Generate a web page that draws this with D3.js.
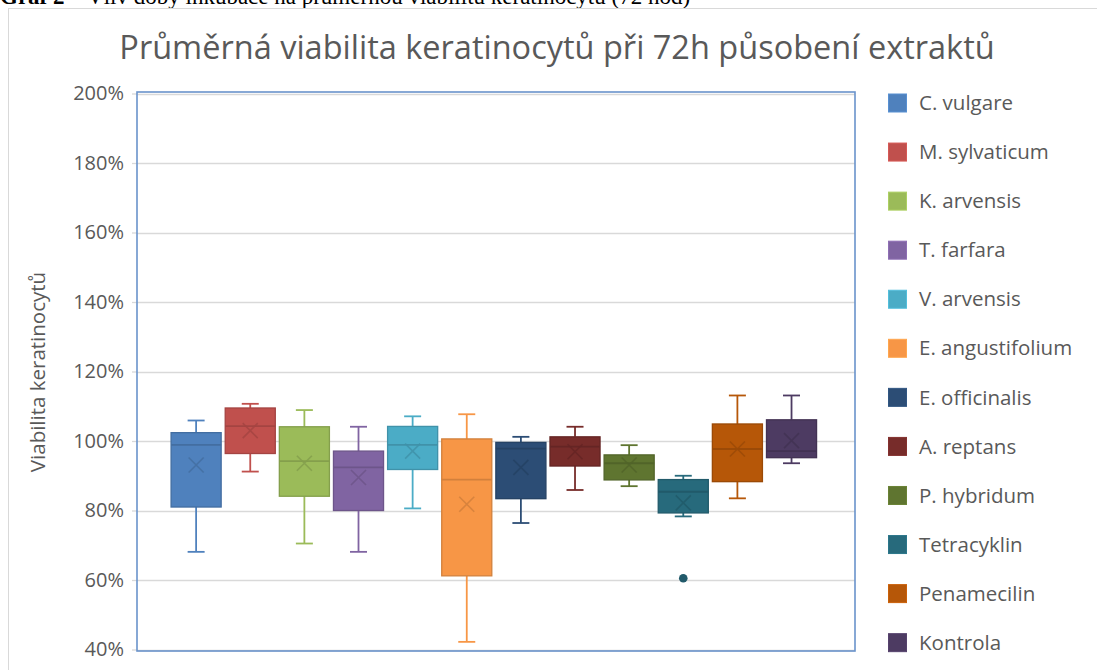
<!DOCTYPE html>
<html>
<head>
<meta charset="utf-8">
<script src="https://cdn.jsdelivr.net/npm/d3@7/dist/d3.min.js"></script>
<style>
  html, body { margin: 0; padding: 0; background: #fff; }
  svg { display: block; }
</style>
</head>
<body>
<svg id="chart" width="1097" height="670"></svg>
<script>
// ---- Data ----
const categories = ["C. vulgare", "M. sylvaticum", "K. arvensis", "T. farfara", "V. arvensis",
  "E. angustifolium", "E. officinalis", "A. reptans", "P. hybridum", "Tetracyklin", "Penamecilin", "Kontrola"];
const whiskerHigh = [105.9, 110.7, 108.9, 104.1, 107.1, 107.7, 101.2, 104.1, 98.8, 90.0, 113.1, 113.1];
const q3Values    = [102.4, 109.5, 104.1, 97.1, 104.2, 100.6, 99.6, 101.2, 96.0, 88.9, 104.9, 106.1];
const medianValues= [98.9, 104.3, 94.2, 92.4, 98.9, 88.9, 97.8, 98.4, 93.6, 85.4, 97.7, 97.1];
const meanValues  = [93.1, 103.0, 93.6, 89.5, 97.1, 81.8, 92.4, 96.9, 93.1, 82.2, 97.7, 100.1];
const q1Values    = [81.0, 96.4, 84.1, 80.0, 91.8, 61.2, 83.4, 92.8, 88.8, 79.3, 88.3, 95.2];
const whiskerLow  = [68.1, 91.2, 70.5, 68.1, 80.6, 42.2, 76.4, 85.9, 87.0, 78.3, 83.5, 93.6];
const outliers    = [[], [], [], [], [], [], [], [], [], [60.5], [], []];
const seriesColors = ["#4F81BD", "#C0504D", "#9BBB59", "#8064A2", "#4BACC6", "#F79646",
  "#2C4D75", "#772C2A", "#5F7530", "#276A7C", "#B65708", "#4D3B62"];
const yTicks = [40, 60, 80, 100, 120, 140, 160, 180, 200];
const chartTitle = "Průměrná viabilita keratinocytů při 72h působení extraktů";
const yAxisTitle = "Viabilita keratinocytů";
const captionBold = "Graf 2";
const captionRest = " – Vliv doby inkubace na průměrnou viabilitu keratinocytů (72 hod)";

const FONT = "'Open Sans', 'Noto Sans', sans-serif";
const svg = d3.select("#chart");

// caption above chart (cut off at top, as in the reference)
const cap = svg.append("text").attr("x", 0).attr("y", 4)
  .attr("font-family", "'Liberation Serif', 'Times New Roman', serif")
  .attr("font-size", 23).attr("fill", "#000");
cap.append("tspan").attr("font-weight", "bold").text(captionBold);
cap.append("tspan").text(captionRest);

// chart outer border
svg.append("rect").attr("x", 8.5).attr("y", 8.5).attr("width", 1200).attr("height", 700)
  .attr("fill", "#fff").attr("stroke", "#D9D9D9").attr("stroke-width", 1);

// scales
const plotL = 137, plotR = 855;
const y = d3.scaleLinear().domain([40, 200]).range([649.5, 93.5]);
const x = d3.scaleBand().domain(categories).range([plotL, plotR])
  .paddingInner(0.075).paddingOuter(0.67).align(0.47);

// gridlines
svg.append("g").selectAll("line").data(yTicks).join("line")
  .attr("x1", plotL).attr("x2", plotR)
  .attr("y1", d => Math.round(y(d)) + 0.5).attr("y2", d => Math.round(y(d)) + 0.5)
  .attr("stroke", "#D9D9D9").attr("stroke-width", 1.3);

// y axis
const yAxis = svg.append("g").attr("transform", `translate(${plotL},0)`)
  .call(d3.axisLeft(y).tickValues(yTicks).tickFormat(d => d + "%").tickSize(5).tickPadding(8));
yAxis.select(".domain").remove();
yAxis.selectAll(".tick line").attr("stroke", "#D9D9D9").attr("stroke-width", 1.3);
yAxis.selectAll(".tick text").attr("font-family", FONT).attr("font-size", 20).attr("fill", "#595959");

// plot frame
svg.append("rect").attr("x", plotL).attr("y", y(200) - 1.5)
  .attr("width", plotR - plotL).attr("height", y(40) - y(200) + 3)
  .attr("fill", "none").attr("stroke", "#6A93CB").attr("stroke-width", 1.6);

// boxes
const bw = x.bandwidth();
const g = svg.append("g").selectAll("g").data(categories).join("g")
  .attr("transform", d => `translate(${x(d) + bw / 2},0)`);

const dark = i => d3.color(seriesColors[i]).darker(0.45).formatHex();
const capW = 17;

// whiskers
g.append("line").attr("x1", 0).attr("x2", 0)
  .attr("y1", (d, i) => y(whiskerHigh[i])).attr("y2", (d, i) => y(q3Values[i]))
  .attr("stroke", (d, i) => seriesColors[i]).attr("stroke-width", 1.8);
g.append("line").attr("x1", 0).attr("x2", 0)
  .attr("y1", (d, i) => y(q1Values[i])).attr("y2", (d, i) => y(whiskerLow[i]))
  .attr("stroke", (d, i) => seriesColors[i]).attr("stroke-width", 1.8);
g.append("line").attr("x1", -capW / 2).attr("x2", capW / 2)
  .attr("y1", (d, i) => y(whiskerHigh[i])).attr("y2", (d, i) => y(whiskerHigh[i]))
  .attr("stroke", (d, i) => seriesColors[i]).attr("stroke-width", 1.8);
g.append("line").attr("x1", -capW / 2).attr("x2", capW / 2)
  .attr("y1", (d, i) => y(whiskerLow[i])).attr("y2", (d, i) => y(whiskerLow[i]))
  .attr("stroke", (d, i) => seriesColors[i]).attr("stroke-width", 1.8);

// box
g.append("rect").attr("x", -bw / 2).attr("width", bw)
  .attr("y", (d, i) => y(q3Values[i])).attr("height", (d, i) => y(q1Values[i]) - y(q3Values[i]))
  .attr("fill", (d, i) => seriesColors[i]).attr("stroke", (d, i) => dark(i)).attr("stroke-width", 1.3);

// median
g.append("line").attr("x1", -bw / 2).attr("x2", bw / 2)
  .attr("y1", (d, i) => y(medianValues[i])).attr("y2", (d, i) => y(medianValues[i]))
  .attr("stroke", (d, i) => dark(i)).attr("stroke-width", 1.8);

// mean marker (X)
const mk = 7.5;
g.append("path")
  .attr("d", (d, i) => {
    const cy = y(meanValues[i]);
    return `M${-mk},${cy - mk}L${mk},${cy + mk}M${-mk},${cy + mk}L${mk},${cy - mk}`;
  })
  .attr("stroke", (d, i) => dark(i)).attr("stroke-width", 1.6).attr("fill", "none").attr("opacity", 0.85);

// outliers
g.each(function (d, i) {
  d3.select(this).selectAll("circle").data(outliers[i]).join("circle")
    .attr("cx", 0).attr("cy", v => y(v)).attr("r", 4.3)
    .attr("fill", dark(i));
});

// title
svg.append("text").attr("x", 557).attr("y", 59).attr("text-anchor", "middle")
  .attr("font-family", FONT).attr("font-size", 32.5).attr("fill", "#595959").text(chartTitle);

// y axis title
svg.append("text").attr("transform", `translate(45,372) rotate(-90)`).attr("text-anchor", "middle")
  .attr("font-family", FONT).attr("font-size", 20.5).attr("fill", "#595959").text(yAxisTitle);

// legend
const leg = svg.append("g").selectAll("g").data(categories).join("g")
  .attr("transform", (d, i) => `translate(888,${103 + i * 49.06})`);
leg.append("rect").attr("x", 0.5).attr("y", -9).attr("width", 18).attr("height", 18)
  .attr("fill", (d, i) => seriesColors[i]).attr("stroke", (d, i) => d3.color(seriesColors[i]).brighter(0.3)).attr("stroke-width", 1);
leg.append("text").attr("x", 31).attr("y", 0).attr("dy", "0.35em")
  .attr("font-family", FONT).attr("font-size", 20.5).attr("fill", "#595959").text(d => d);
</script>
</body>
</html>
